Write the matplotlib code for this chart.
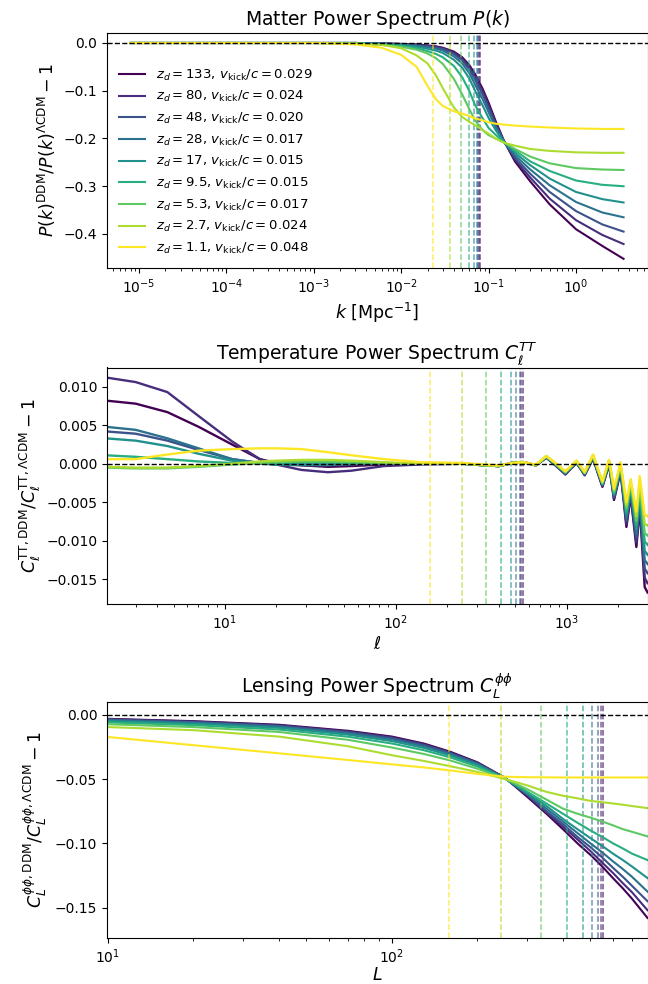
import numpy as np
import matplotlib
matplotlib.use("Agg")
import matplotlib.pyplot as plt
from matplotlib.ticker import MultipleLocator

# model parameters (legend)
z_decay = ["133", "80", "48", "28", "17", "9.5", "5.3", "2.7", "1.1"]
v_kick = ["0.029", "0.024", "0.020", "0.017", "0.015", "0.015", "0.017", "0.024", "0.048"]

# scale cut of each model (vertical dashed markers)
k_cut = [0.0799, 0.0776, 0.0757, 0.0736, 0.068, 0.0597, 0.0483, 0.0362, 0.0231]
ell_cut = [553, 543, 531, 505, 471, 413, 335, 243, 159]

# --- matter power spectrum ratio ---
k = [8e-6, 1e-4, 1e-3, 3e-3, 6e-3, 0.01, 0.015, 0.02, 0.025, 0.03, 0.04, 0.05,
     0.06, 0.07, 0.085, 0.1, 0.12, 0.15, 0.2, 0.3, 0.5, 1.0, 2.0, 3.5]
pk_133 = [0, 0, 0, 0, -0.001, -0.002, -0.003, -0.005, -0.007, -0.010, -0.018, -0.030,
          -0.046, -0.065, -0.095, -0.125, -0.163, -0.205, -0.248, -0.290, -0.338, -0.390, -0.425, -0.452]
pk_80 = [0, 0, 0, 0, -0.001, -0.002, -0.004, -0.006, -0.008, -0.011, -0.020, -0.033,
         -0.050, -0.070, -0.100, -0.130, -0.167, -0.206, -0.244, -0.282, -0.326, -0.371, -0.402, -0.421]
pk_48 = [0, 0, 0, 0, -0.001, -0.003, -0.005, -0.007, -0.010, -0.013, -0.023, -0.037,
         -0.055, -0.077, -0.107, -0.137, -0.171, -0.206, -0.240, -0.274, -0.312, -0.352, -0.380, -0.395]
pk_28 = [0, 0, 0, 0, -0.001, -0.003, -0.006, -0.009, -0.012, -0.016, -0.028, -0.043,
         -0.063, -0.087, -0.117, -0.145, -0.176, -0.207, -0.235, -0.265, -0.298, -0.333, -0.355, -0.365]
pk_17 = [0, 0, 0, 0, -0.002, -0.004, -0.008, -0.012, -0.016, -0.021, -0.035, -0.052,
         -0.074, -0.100, -0.130, -0.157, -0.182, -0.208, -0.230, -0.256, -0.284, -0.312, -0.327, -0.334]
pk_9p5 = [0, 0, 0, -0.001, -0.003, -0.006, -0.011, -0.017, -0.023, -0.030, -0.048, -0.072,
          -0.100, -0.130, -0.157, -0.178, -0.192, -0.208, -0.225, -0.248, -0.268, -0.288, -0.297, -0.300]
pk_5p3 = [0, 0, 0, -0.001, -0.004, -0.008, -0.014, -0.022, -0.032, -0.044, -0.075, -0.108,
          -0.138, -0.162, -0.182, -0.193, -0.200, -0.208, -0.222, -0.238, -0.252, -0.262, -0.265, -0.266]
pk_2p7 = [0, 0, 0, -0.001, -0.004, -0.011, -0.026, -0.043, -0.068, -0.095, -0.135, -0.155,
          -0.165, -0.172, -0.182, -0.190, -0.200, -0.209, -0.215, -0.222, -0.226, -0.229, -0.230, -0.230]
pk_1p1 = [0, 0, 0, -0.003, -0.010, -0.025, -0.050, -0.090, -0.118, -0.132, -0.143, -0.148,
          -0.153, -0.158, -0.162, -0.166, -0.169, -0.171, -0.173, -0.175, -0.177, -0.179, -0.180, -0.180]
pk_all = [pk_133, pk_80, pk_48, pk_28, pk_17, pk_9p5, pk_5p3, pk_2p7, pk_1p1]

# --- CMB TT ratio (values in units of 1e-4) ---
ell = [2, 3, 4.6, 7, 11, 16, 20, 28, 40, 55, 85, 140, 250, 330, 400, 480, 560, 660,
       760, 870, 982, 1060, 1140, 1210, 1274, 1350, 1426, 1520, 1618, 1690, 1767, 1830,
       1891, 1980, 2063, 2150, 2235, 2300, 2368, 2460, 2556, 2620, 2674, 2770, 2860, 2970]
tt_133 = [82, 78, 67, 48, 25, 6, 1, -2, -4, -3, -1, 0, 0, -2, -3, 1, 2, -2,
          8, -3, -14, -6, 1, -7, -15, -4, 7, -12, -30, -16, -1, -24, -47, -28, -10, -46,
          -82, -62, -42, -75, -108, -82, -55, -111, -160, -167]
tt_80 = [112, 106, 93, 62, 29, 6, -1, -8, -11, -9, -3, -1, 0, -2, -3, 1, 2, -2,
         8, -3, -13, -6, 1, -7, -14, -3, 8, -11, -29, -15, 0, -23, -45, -26, -8, -43,
         -78, -59, -39, -71, -102, -77, -50, -102, -148, -155]
tt_48 = [42, 39, 30, 18, 6, 1, -1, -2, -2, -1, 0, 0, 0, -2, -3, 1, 2, -2,
         8, -2, -13, -5, 2, -6, -14, -3, 8, -10, -28, -14, 0, -21, -43, -25, -7, -40,
         -74, -55, -36, -66, -96, -71, -45, -94, -136, -142]
tt_28 = [48, 44, 33, 20, 6, 1, -1, -1, -1, 0, 0, 0, 0, -2, -3, 1, 2, -2,
         9, -2, -12, -5, 2, -6, -13, -2, 9, -10, -27, -13, 1, -20, -41, -23, -5, -38,
         -70, -52, -34, -62, -91, -66, -40, -85, -125, -130]
tt_17 = [33, 30, 23, 13, 4, 0, -1, -1, -1, 0, 0, 0, 0, -2, -3, 1, 2, -2,
         9, -2, -12, -4, 2, -6, -13, -2, 10, -9, -26, -12, 2, -18, -40, -22, -4, -35,
         -66, -48, -31, -58, -85, -60, -36, -76, -113, -118]
tt_9p5 = [11, 9, 6, 3, 1, 1, 1, 2, 2, 1, 1, 0, 0, -2, -3, 1, 2, -2,
          9, -1, -11, -4, 3, -5, -12, -1, 10, -8, -26, -12, 3, -17, -38, -20, -2, -32,
          -62, -45, -28, -54, -79, -55, -31, -68, -101, -105]
tt_5p3 = [-5, -6, -6, -4, -1, 1, 2, 3, 3, 2, 1, 0, 0, -2, -3, 1, 2, -2,
          10, -1, -11, -4, 3, -5, -12, 0, 11, -8, -25, -11, 4, -16, -36, -18, -1, -30,
          -58, -42, -26, -50, -74, -50, -26, -59, -90, -93]
tt_2p7 = [-4, -5, -5, -3, 0, 3, 4, 5, 5, 4, 2, 0, 0, -2, -3, 1, 2, -2,
          10, 0, -10, -3, 4, -4, -11, 0, 11, -7, -24, -10, 4, -14, -34, -17, 0, -27,
          -54, -38, -23, -45, -68, -44, -21, -51, -78, -80]
tt_1p1 = [6, 6, 12, 17, 19, 20, 20, 19, 15, 11, 6, 2, 1, -1, -2, 1, 2, -1,
          10, 0, -10, -3, 4, -4, -11, 1, 12, -6, -23, -9, 5, -13, -32, -15, 2, -24,
          -50, -35, -20, -41, -62, -39, -16, -42, -66, -68]
tt_all = [tt_133, tt_80, tt_48, tt_28, tt_17, tt_9p5, tt_5p3, tt_2p7, tt_1p1]

# --- lensing ratio ---
L = [10, 20, 40, 70, 100, 130, 160, 200, 250, 300, 350, 400, 450, 500, 550, 600, 650, 700, 794]
pp_133 = [-0.0032, -0.0050, -0.0078, -0.0125, -0.0170, -0.0225, -0.0287, -0.0370, -0.0490, -0.064,
          -0.077, -0.089, -0.100, -0.109, -0.118, -0.127, -0.135, -0.143, -0.158]
pp_80 = [-0.0035, -0.0053, -0.0082, -0.0130, -0.0176, -0.0231, -0.0292, -0.0374, -0.0491, -0.063,
         -0.076, -0.087, -0.097, -0.106, -0.115, -0.123, -0.131, -0.138, -0.152]
pp_48 = [-0.0038, -0.0057, -0.0087, -0.0136, -0.0183, -0.0238, -0.0298, -0.0378, -0.0492, -0.062,
         -0.075, -0.085, -0.095, -0.103, -0.111, -0.119, -0.126, -0.133, -0.145]
pp_28 = [-0.0043, -0.0062, -0.0093, -0.0144, -0.0192, -0.0247, -0.0306, -0.0384, -0.0493, -0.062,
         -0.073, -0.083, -0.092, -0.100, -0.107, -0.114, -0.120, -0.126, -0.1375]
pp_17 = [-0.0050, -0.0070, -0.0102, -0.0155, -0.0205, -0.0259, -0.0316, -0.0392, -0.0494, -0.061,
         -0.071, -0.081, -0.089, -0.096, -0.102, -0.108, -0.113, -0.118, -0.127]
pp_9p5 = [-0.0060, -0.0081, -0.0115, -0.0171, -0.0224, -0.0277, -0.0331, -0.0403, -0.0496, -0.060,
          -0.069, -0.077, -0.084, -0.090, -0.095, -0.100, -0.104, -0.108, -0.113]
pp_5p3 = [-0.0074, -0.0096, -0.0134, -0.0195, -0.0255, -0.0306, -0.0355, -0.0420, -0.0498, -0.058,
          -0.066, -0.073, -0.077, -0.080, -0.083, -0.086, -0.089, -0.091, -0.0946]
pp_2p7 = [-0.0096, -0.0120, -0.0170, -0.0245, -0.0315, -0.0360, -0.0400, -0.0445, -0.0500, -0.055,
          -0.060, -0.063, -0.065, -0.067, -0.068, -0.069, -0.070, -0.071, -0.0726]
pp_1p1 = [-0.0173, -0.0237, -0.0300, -0.0352, -0.0386, -0.0410, -0.0433, -0.0460, -0.0482, -0.0486,
          -0.0487, -0.0488, -0.0488, -0.0488, -0.0488, -0.0488, -0.0488, -0.0488, -0.0488]
pp_all = [pp_133, pp_80, pp_48, pp_28, pp_17, pp_9p5, pp_5p3, pp_2p7, pp_1p1]

colors = plt.cm.viridis(np.linspace(0, 1, len(z_decay)))

W, H = 648, 984
fig = plt.figure(figsize=(W / 100, H / 100), dpi=100)
ax1 = fig.add_axes([107 / W, 1 - 268 / H, 540.5 / W, 235 / H])
ax2 = fig.add_axes([107 / W, 1 - 604 / H, 540.5 / W, 236.5 / H])
ax3 = fig.add_axes([107 / W, 1 - 938 / H, 540.5 / W, 236 / H])

for i in range(len(z_decay)):
    lab = r"$z_d=%s$, $v_{\rm kick}/c=%s$" % (z_decay[i], v_kick[i])
    ax1.plot(k, pk_all[i], color=colors[i], lw=1.5, label=lab)
    ax1.axvline(k_cut[i], color=colors[i], ls="--", lw=1.1, alpha=0.7)
    ax2.plot(ell, np.array(tt_all[i]) * 1e-4, color=colors[i], lw=1.7)
    ax2.axvline(ell_cut[i], color=colors[i], ls="--", lw=1.1, alpha=0.7)
    ax3.plot(L, pp_all[i], color=colors[i], lw=1.5)
    ax3.axvline(ell_cut[i], color=colors[i], ls="--", lw=1.1, alpha=0.7)

for ax in (ax1, ax2, ax3):
    ax.axhline(0, color="k", ls="--", lw=1)
    ax.set_xscale("log")
    ax.tick_params(labelsize=10)

ax1.set_xlim(10 ** -5.366, 10 ** 0.818)
ax1.set_ylim(-0.4712, 0.0209)
ax1.set_title(r"Matter Power Spectrum $P(k)$", fontsize=13.5)
ax1.set_xlabel(r"$k$ [Mpc$^{-1}$]", fontsize=12.5, labelpad=3)
ax1.set_ylabel(r"$P(k)^{\rm DDM}/P(k)^{\Lambda\rm CDM}-1$", fontsize=12.5)
ax1.legend(loc="lower left", frameon=False, fontsize=9.5)

ax2.set_xlim(2.04, 2970)
ax2.set_ylim(-0.0182, 0.01249)
ax2.set_title(r"Temperature Power Spectrum $C_\ell^{TT}$", fontsize=13.5)
ax2.set_xlabel(r"$\ell$", fontsize=12.5, labelpad=2)
ax2.set_ylabel(r"$C_\ell^{\rm TT, DDM}/C_\ell^{\rm TT, \Lambda CDM}-1$", fontsize=12.5, labelpad=2)

ax3.set_xlim(9.92, 794)
ax3.set_ylim(-0.1736, 0.00989)
ax3.yaxis.set_major_locator(MultipleLocator(0.05))
ax3.set_title(r"Lensing Power Spectrum $C_L^{\phi\phi}$", fontsize=13.5)
ax3.set_xlabel(r"$L$", fontsize=12.5, labelpad=0)
ax3.set_ylabel(r"$C_L^{\phi\phi,\rm DDM}/C_L^{\phi\phi,\Lambda\rm CDM}-1$", fontsize=12.5)

fig.savefig("out.png", dpi=100)
